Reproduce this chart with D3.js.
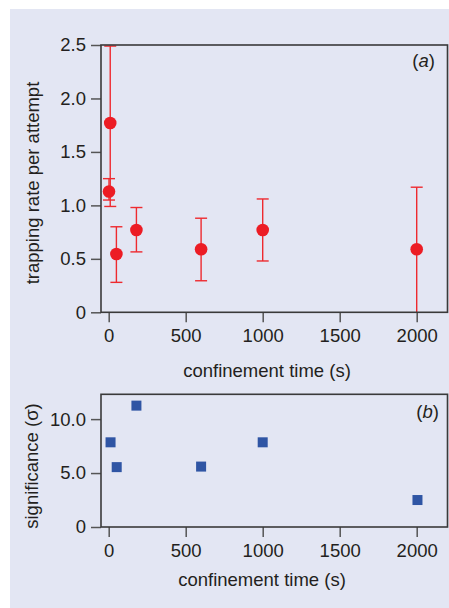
<!DOCTYPE html>
<html><head><meta charset="utf-8">
<script src="https://cdn.jsdelivr.net/npm/d3@7"></script>
<style>
html,body{margin:0;padding:0;background:#fff;}
svg{display:block;}
text{font-family:"Liberation Sans",Arial,sans-serif;fill:#231f20;}
</style></head>
<body>
<svg id="chart" width="449" height="608"></svg>
<script>
// ---- data ----
const timeA = [2, 10, 50, 180, 600, 1000, 2000];
const rateA = [1.13, 1.77, 0.545, 0.77, 0.59, 0.77, 0.59];
const errLowA = [1.05, 0.99, 0.28, 0.565, 0.295, 0.48, 0];
const errHighA = [1.25, 2.49, 0.80, 0.98, 0.88, 1.06, 1.17];
const ticksYA = [0, 0.5, 1.0, 1.5, 2.0, 2.5];

const timeB = [12, 52, 180, 600, 1000, 2005];
const sigB = [7.85, 5.55, 11.25, 5.6, 7.85, 2.5];
const ticksYB = [0, 5, 10];

const ticksX = [0, 500, 1000, 1500, 2000];
const xTitle = "confinement time (s)";
const yTitleA = "trapping rate per attempt";
const yTitleB = "significance (σ)";

// ---- drawing ----
const svg = d3.select("#chart");
svg.append("rect").attr("x",10).attr("y",9).attr("width",439).attr("height",599).attr("fill","#e3e6f3");

const left = 101, right = 447.5;
const x = d3.scaleLinear().domain([-50, 2200]).range([left, right]);
const yA = d3.scaleLinear().domain([0, 2.5]).range([312.3, 45]);
const yB = d3.scaleLinear().domain([0, 12.3]).range([527, 394.3]);

function styleAxis(g){
  g.select(".domain").remove();
  g.selectAll(".tick line").attr("stroke","#555").attr("stroke-width",1.5);
  g.selectAll(".tick text").attr("font-size",18.5).attr("fill","#231f20")
   .attr("font-family","Liberation Sans, Arial, sans-serif");
}

function panel(y, yTicks, yFmt, bottomY){
  const gx = svg.append("g").attr("transform",`translate(0,${bottomY})`)
    .call(d3.axisBottom(x).tickValues(ticksX).tickSize(10).tickPadding(7).tickFormat(d3.format("d")));
  styleAxis(gx);
  const gy = svg.append("g").attr("transform",`translate(${left},0)`)
    .call(d3.axisLeft(y).tickValues(yTicks).tickSize(10).tickPadding(5).tickFormat(yFmt));
  styleAxis(gy);
}

const fmtY = d => d === 0 ? "0" : d3.format(".1f")(d);

// Panel (a)
panel(yA, ticksYA, fmtY, yA(0));
const gA = svg.append("g");
timeA.forEach((t,i)=>{
  const cx = x(t);
  gA.append("line").attr("x1",cx).attr("x2",cx).attr("y1",yA(errLowA[i])).attr("y2",yA(errHighA[i]))
    .attr("stroke","#ee2a2f").attr("stroke-width",1.4);
  [errLowA[i], errHighA[i]].forEach(v=>{
    if(v<=0) return;
    gA.append("line").attr("x1",cx-6).attr("x2",cx+6).attr("y1",yA(v)).attr("y2",yA(v))
      .attr("stroke","#ee2a2f").attr("stroke-width",1.4);
  });
});
gA.selectAll("circle").data(timeA).join("circle")
  .attr("cx",d=>x(d)).attr("cy",(d,i)=>yA(rateA[i])).attr("r",6.3).attr("fill","#ec1c24");
svg.append("rect").attr("x",left).attr("y",yA(2.5)).attr("width",right-left).attr("height",yA(0)-yA(2.5))
  .attr("fill","none").attr("stroke","#3a3a3a").attr("stroke-width",1.6);
svg.append("text").attr("x",435).attr("y",67).attr("text-anchor","end").attr("font-size",18.5)
  .html('(<tspan font-style="italic">a</tspan>)');
svg.append("text").attr("x",267).attr("y",377).attr("text-anchor","middle").attr("font-size",18.5).text(xTitle);
svg.append("text").attr("transform","translate(39,183) rotate(-90)").attr("text-anchor","middle").attr("font-size",18.5).text(yTitleA);

// Panel (b)
panel(yB, ticksYB, fmtY, yB(0));
svg.append("g").selectAll("rect").data(timeB).join("rect")
  .attr("x",d=>x(d)-5).attr("y",(d,i)=>yB(sigB[i])-5).attr("width",10).attr("height",10).attr("fill","#2f55a4");
svg.append("rect").attr("x",left).attr("y",yB(12.3)).attr("width",right-left).attr("height",yB(0)-yB(12.3))
  .attr("fill","none").attr("stroke","#3a3a3a").attr("stroke-width",1.6);
svg.append("text").attr("x",439).attr("y",418).attr("text-anchor","end").attr("font-size",18.5)
  .html('(<tspan font-style="italic">b</tspan>)');
svg.append("text").attr("x",262).attr("y",586).attr("text-anchor","middle").attr("font-size",18.5).text(xTitle);
svg.append("text").attr("transform","translate(38,466) rotate(-90)").attr("text-anchor","middle").attr("font-size",18.5).text(yTitleB);
</script>
</body></html>
